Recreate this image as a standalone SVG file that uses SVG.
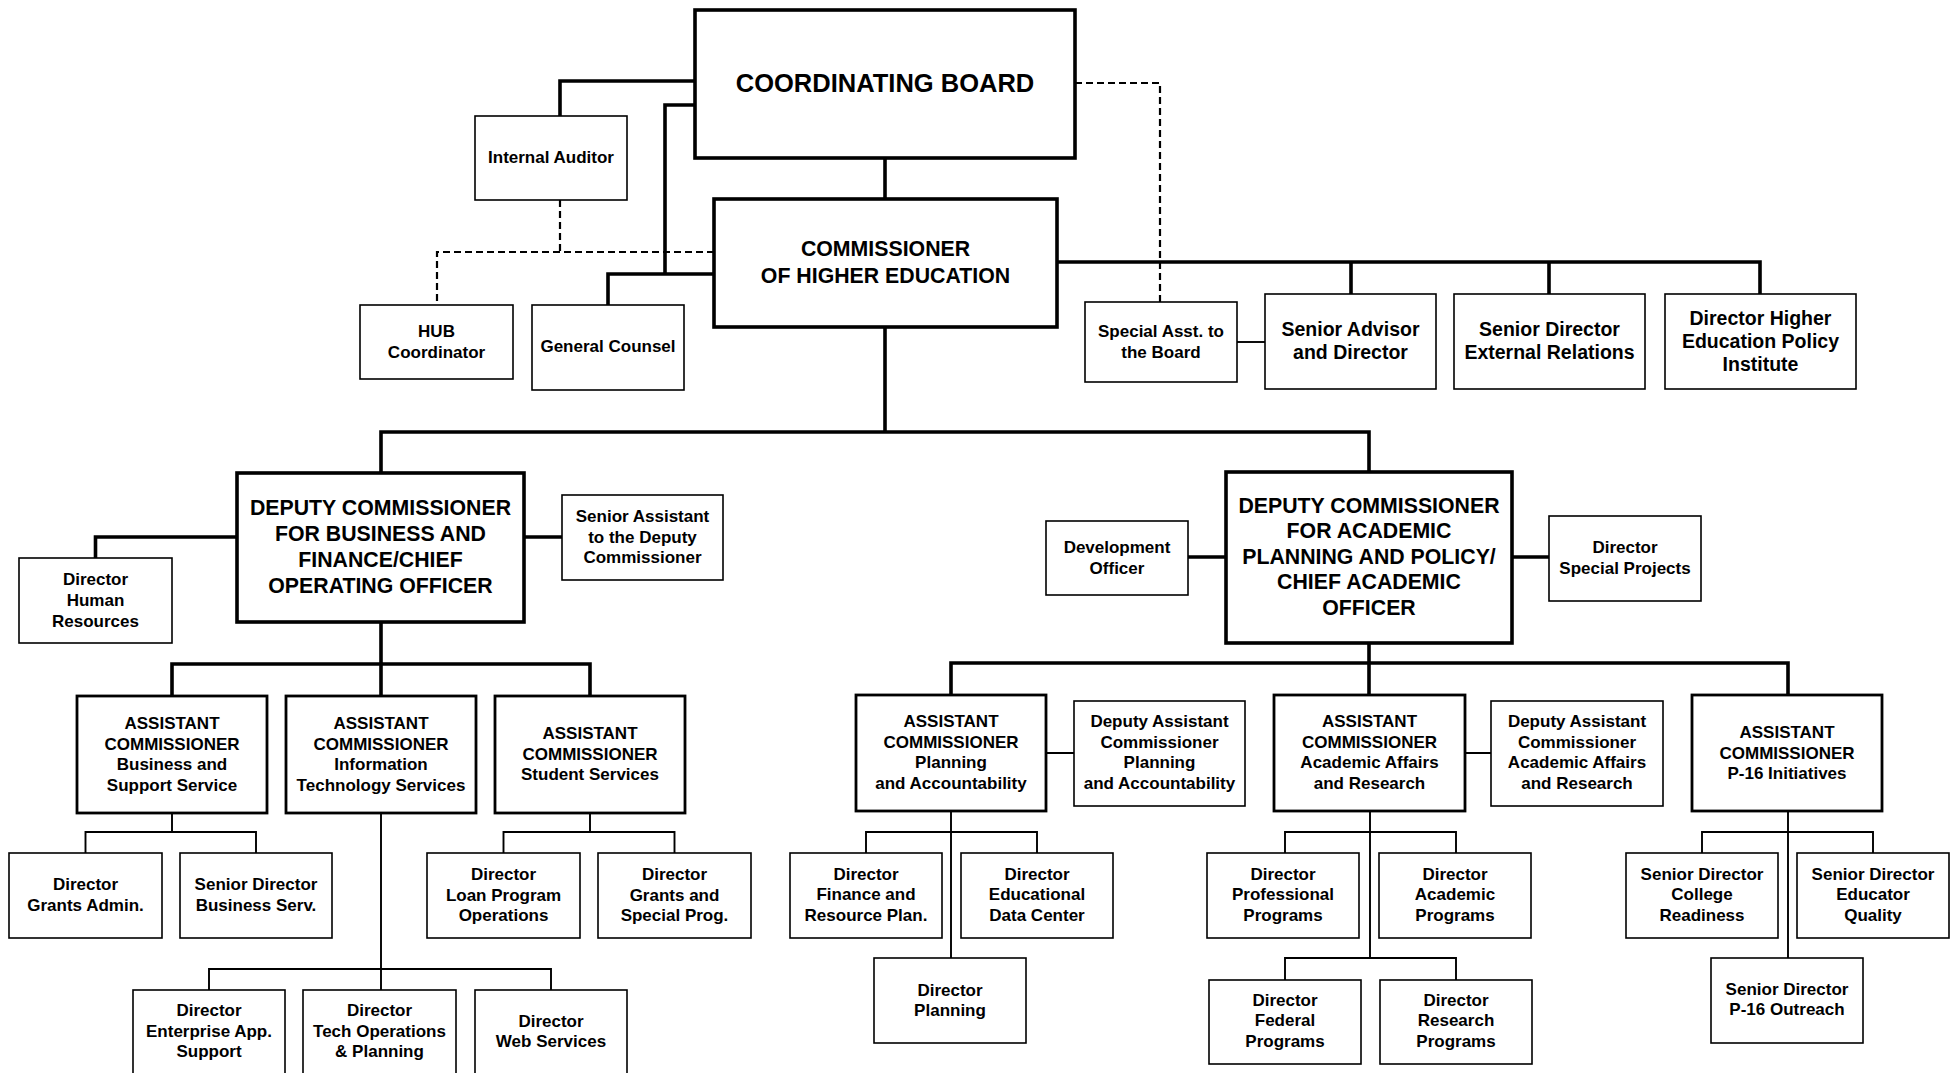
<svg xmlns="http://www.w3.org/2000/svg" width="1959" height="1073" viewBox="0 0 1959 1073">
<style>
rect{fill:#fff;stroke:#000;stroke-width:1.6}
rect.ac{stroke-width:2.8}
rect.top{stroke-width:3.6}
#connectors path{fill:none;stroke:#000}
path.k{stroke-width:3.6}
path.t{stroke-width:1.9}
path.d{stroke-width:2.2;stroke-dasharray:7 4}
text{font-family:"Liberation Sans",Arial,Helvetica,sans-serif;font-weight:bold;text-anchor:middle;fill:#000;font-size:17px}
.f19{font-size:19.5px}.f21{font-size:21.3px}.f24{font-size:25.5px}
</style>
<rect x="0" y="0" width="1959" height="1073" style="fill:#fff;stroke:none"/>
<g id="connectors">
<path class="k" d="M695,81H560V116"/>
<path class="k" d="M695,105H665V274H714M665,274H608V305"/>
<path class="k" d="M885,158V199"/>
<path class="k" d="M1057,262H1760V294M1351,262V294M1549,262V294"/>
<path class="k" d="M885,327V432M381,473V432H1369V472"/>
<path class="k" d="M237,537H95.5V558M524,537H562"/>
<path class="k" d="M381,622V664M172,696V664H590V696M381,664V696"/>
<path class="k" d="M1188,557H1226M1512,557H1549"/>
<path class="k" d="M1369,643V663M951,695V663H1788V695M1369,663V695"/>
<path class="t" d="M1237,342H1265"/>
<path class="t" d="M172,813V832M85.5,853V832H256V853"/>
<path class="t" d="M590,813V832M503.5,853V832H674.5V853"/>
<path class="t" d="M381,813V990M209,990V969H551V990"/>
<path class="t" d="M1046,753H1074M951,811V958M866,853V832H1037V853"/>
<path class="t" d="M1465,753H1491M1370,811V958M1285,853V832H1456V853M1285,980V958H1456V980"/>
<path class="t" d="M1788,811V958M1702,853V832H1873V853"/>
<path class="d" d="M1075,83H1160V302"/>
<path class="d" d="M714,252H437V305"/>
<path class="d" d="M560,200V252"/>
</g>
<g id="coordinating-board"><rect class="top" x="695" y="10" width="380" height="148"/><text class="f24" x="885" y="91.5">COORDINATING BOARD</text></g>
<g id="internal-auditor"><rect x="475" y="116" width="152" height="84"/><text x="551" y="163">Internal Auditor</text></g>
<g id="commissioner"><rect class="top" x="714" y="199" width="343" height="128"/><text class="f21" x="885.5"><tspan x="885.5" y="256">COMMISSIONER</tspan><tspan x="885.5" y="283">OF HIGHER EDUCATION</tspan></text></g>
<g id="hub-coordinator"><rect x="360" y="305" width="153" height="74"/><text x="436.5"><tspan x="436.5" y="337">HUB</tspan><tspan x="436.5" y="358">Coordinator</tspan></text></g>
<g id="general-counsel"><rect x="532" y="305" width="152" height="85"/><text x="608" y="352">General Counsel</text></g>
<g id="special-asst-board"><rect x="1085" y="302" width="152" height="80"/><text x="1161"><tspan x="1161" y="337">Special Asst. to</tspan><tspan x="1161" y="358">the Board</tspan></text></g>
<g id="senior-advisor"><rect x="1265" y="294" width="171" height="95"/><text class="f19" x="1350.5"><tspan x="1350.5" y="336">Senior Advisor</tspan><tspan x="1350.5" y="359">and Director</tspan></text></g>
<g id="external-relations"><rect x="1454" y="294" width="191" height="95"/><text class="f19" x="1549.5"><tspan x="1549.5" y="336">Senior Director</tspan><tspan x="1549.5" y="359">External Relations</tspan></text></g>
<g id="policy-institute"><rect x="1665" y="294" width="191" height="95"/><text class="f19" x="1760.5"><tspan x="1760.5" y="324.5">Director Higher</tspan><tspan x="1760.5" y="347.5">Education Policy</tspan><tspan x="1760.5" y="370.5">Institute</tspan></text></g>
<g id="deputy-business"><rect class="top" x="237" y="473" width="287" height="149"/><text class="f21" x="380.5"><tspan x="380.5" y="515">DEPUTY COMMISSIONER</tspan><tspan x="380.5" y="541">FOR BUSINESS AND</tspan><tspan x="380.5" y="566.5">FINANCE/CHIEF</tspan><tspan x="380.5" y="592.5">OPERATING OFFICER</tspan></text></g>
<g id="director-hr"><rect x="19" y="558" width="153" height="85"/><text x="95.5"><tspan x="95.5" y="585">Director</tspan><tspan x="95.5" y="606">Human</tspan><tspan x="95.5" y="626.5">Resources</tspan></text></g>
<g id="senior-assistant-deputy"><rect x="562" y="495" width="161" height="85"/><text x="642.5"><tspan x="642.5" y="522">Senior Assistant</tspan><tspan x="642.5" y="542.5">to the Deputy</tspan><tspan x="642.5" y="563">Commissioner</tspan></text></g>
<g id="deputy-academic"><rect class="top" x="1226" y="472" width="286" height="171"/><text class="f21" x="1369"><tspan x="1369" y="512.5">DEPUTY COMMISSIONER</tspan><tspan x="1369" y="538">FOR ACADEMIC</tspan><tspan x="1369" y="563.5">PLANNING AND POLICY/</tspan><tspan x="1369" y="589">CHIEF ACADEMIC</tspan><tspan x="1369" y="614.5">OFFICER</tspan></text></g>
<g id="development-officer"><rect x="1046" y="521" width="142" height="74"/><text x="1117"><tspan x="1117" y="553">Development</tspan><tspan x="1117" y="573.5">Officer</tspan></text></g>
<g id="special-projects"><rect x="1549" y="516" width="152" height="85"/><text x="1625"><tspan x="1625" y="552.5">Director</tspan><tspan x="1625" y="573.5">Special Projects</tspan></text></g>
<g id="ac-business"><rect class="ac" x="77" y="696" width="190" height="117"/><text x="172"><tspan x="172" y="729">ASSISTANT</tspan><tspan x="172" y="749.5">COMMISSIONER</tspan><tspan x="172" y="770">Business and</tspan><tspan x="172" y="790.5">Support Service</tspan></text></g>
<g id="ac-it"><rect class="ac" x="286" y="696" width="190" height="117"/><text x="381"><tspan x="381" y="729">ASSISTANT</tspan><tspan x="381" y="749.5">COMMISSIONER</tspan><tspan x="381" y="770">Information</tspan><tspan x="381" y="790.5">Technology Services</tspan></text></g>
<g id="ac-student"><rect class="ac" x="495" y="696" width="190" height="117"/><text x="590"><tspan x="590" y="739">ASSISTANT</tspan><tspan x="590" y="759.5">COMMISSIONER</tspan><tspan x="590" y="780">Student Services</tspan></text></g>
<g id="grants-admin"><rect x="9" y="853" width="153" height="85"/><text x="85.5"><tspan x="85.5" y="890">Director</tspan><tspan x="85.5" y="911">Grants Admin.</tspan></text></g>
<g id="business-serv"><rect x="180" y="853" width="152" height="85"/><text x="256"><tspan x="256" y="890">Senior Director</tspan><tspan x="256" y="911">Business Serv.</tspan></text></g>
<g id="loan-program"><rect x="427" y="853" width="153" height="85"/><text x="503.5"><tspan x="503.5" y="880">Director</tspan><tspan x="503.5" y="900.5">Loan Program</tspan><tspan x="503.5" y="921">Operations</tspan></text></g>
<g id="grants-special"><rect x="598" y="853" width="153" height="85"/><text x="674.5"><tspan x="674.5" y="880">Director</tspan><tspan x="674.5" y="900.5">Grants and</tspan><tspan x="674.5" y="921">Special Prog.</tspan></text></g>
<g id="enterprise-app"><rect x="133" y="990" width="152" height="85"/><text x="209"><tspan x="209" y="1016">Director</tspan><tspan x="209" y="1036.5">Enterprise App.</tspan><tspan x="209" y="1057">Support</tspan></text></g>
<g id="tech-operations"><rect x="303" y="990" width="153" height="85"/><text x="379.5"><tspan x="379.5" y="1016">Director</tspan><tspan x="379.5" y="1036.5">Tech Operations</tspan><tspan x="379.5" y="1057">&amp; Planning</tspan></text></g>
<g id="web-services"><rect x="475" y="990" width="152" height="85"/><text x="551"><tspan x="551" y="1026.5">Director</tspan><tspan x="551" y="1047">Web Services</tspan></text></g>
<g id="ac-planning"><rect class="ac" x="856" y="695" width="190" height="116"/><text x="951"><tspan x="951" y="727">ASSISTANT</tspan><tspan x="951" y="747.5">COMMISSIONER</tspan><tspan x="951" y="768">Planning</tspan><tspan x="951" y="788.5">and Accountability</tspan></text></g>
<g id="dac-planning"><rect x="1074" y="701" width="171" height="105"/><text x="1159.5"><tspan x="1159.5" y="727">Deputy Assistant</tspan><tspan x="1159.5" y="747.5">Commissioner</tspan><tspan x="1159.5" y="768">Planning</tspan><tspan x="1159.5" y="788.5">and Accountability</tspan></text></g>
<g id="ac-academic"><rect class="ac" x="1274" y="695" width="191" height="116"/><text x="1369.5"><tspan x="1369.5" y="727">ASSISTANT</tspan><tspan x="1369.5" y="747.5">COMMISSIONER</tspan><tspan x="1369.5" y="768">Academic Affairs</tspan><tspan x="1369.5" y="788.5">and Research</tspan></text></g>
<g id="dac-academic"><rect x="1491" y="701" width="172" height="105"/><text x="1577"><tspan x="1577" y="727">Deputy Assistant</tspan><tspan x="1577" y="747.5">Commissioner</tspan><tspan x="1577" y="768">Academic Affairs</tspan><tspan x="1577" y="788.5">and Research</tspan></text></g>
<g id="ac-p16"><rect class="ac" x="1692" y="695" width="190" height="116"/><text x="1787"><tspan x="1787" y="738">ASSISTANT</tspan><tspan x="1787" y="758.5">COMMISSIONER</tspan><tspan x="1787" y="779">P-16 Initiatives</tspan></text></g>
<g id="finance-resource"><rect x="790" y="853" width="152" height="85"/><text x="866"><tspan x="866" y="879.5">Director</tspan><tspan x="866" y="900">Finance and</tspan><tspan x="866" y="920.5">Resource Plan.</tspan></text></g>
<g id="educational-data"><rect x="961" y="853" width="152" height="85"/><text x="1037"><tspan x="1037" y="879.5">Director</tspan><tspan x="1037" y="900">Educational</tspan><tspan x="1037" y="920.5">Data Center</tspan></text></g>
<g id="director-planning"><rect x="874" y="958" width="152" height="85"/><text x="950"><tspan x="950" y="995.5">Director</tspan><tspan x="950" y="1016">Planning</tspan></text></g>
<g id="professional-programs"><rect x="1207" y="853" width="152" height="85"/><text x="1283"><tspan x="1283" y="879.5">Director</tspan><tspan x="1283" y="900">Professional</tspan><tspan x="1283" y="920.5">Programs</tspan></text></g>
<g id="academic-programs"><rect x="1379" y="853" width="152" height="85"/><text x="1455"><tspan x="1455" y="879.5">Director</tspan><tspan x="1455" y="900">Academic</tspan><tspan x="1455" y="920.5">Programs</tspan></text></g>
<g id="federal-programs"><rect x="1209" y="980" width="152" height="84"/><text x="1285"><tspan x="1285" y="1005.5">Director</tspan><tspan x="1285" y="1026">Federal</tspan><tspan x="1285" y="1046.5">Programs</tspan></text></g>
<g id="research-programs"><rect x="1380" y="980" width="152" height="84"/><text x="1456"><tspan x="1456" y="1005.5">Director</tspan><tspan x="1456" y="1026">Research</tspan><tspan x="1456" y="1046.5">Programs</tspan></text></g>
<g id="college-readiness"><rect x="1626" y="853" width="152" height="85"/><text x="1702"><tspan x="1702" y="879.5">Senior Director</tspan><tspan x="1702" y="900">College</tspan><tspan x="1702" y="920.5">Readiness</tspan></text></g>
<g id="educator-quality"><rect x="1797" y="853" width="152" height="85"/><text x="1873"><tspan x="1873" y="879.5">Senior Director</tspan><tspan x="1873" y="900">Educator</tspan><tspan x="1873" y="920.5">Quality</tspan></text></g>
<g id="p16-outreach"><rect x="1711" y="958" width="152" height="85"/><text x="1787"><tspan x="1787" y="994.5">Senior Director</tspan><tspan x="1787" y="1015">P-16 Outreach</tspan></text></g>
</svg>
